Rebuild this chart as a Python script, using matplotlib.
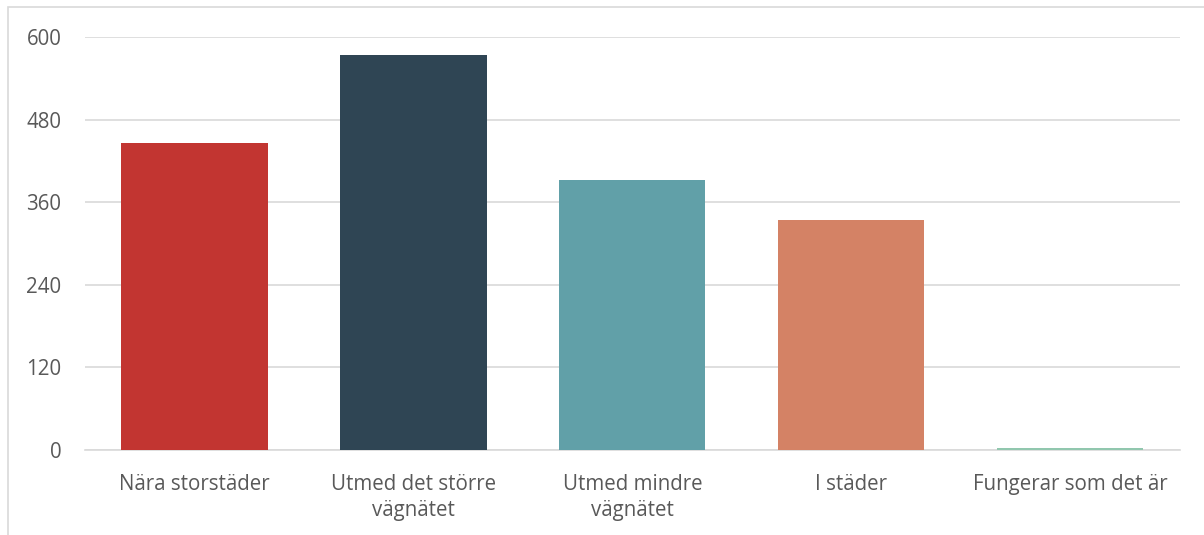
import matplotlib.pyplot as plt
from matplotlib.patches import Rectangle

categories = ["Nära storstäder", "Utmed det större\nvägnätet", "Utmed mindre\nvägnätet",
              "I städer", "Fungerar som det är"]
values = [446, 574, 392, 334, 3]
colors = ["#C23531", "#2F4554", "#61A0A8", "#D48265", "#91C7AE"]
yticks = [0, 120, 240, 360, 480, 600]

plt.rcParams['font.family'] = ['Open Sans', 'DejaVu Sans']

fig = plt.figure(figsize=(12.04, 5.35), dpi=100)
ax = fig.add_axes([0.0706, 0.159, 0.9094, 0.772])

# outer frame around the chart area
fig.patches.append(Rectangle((0.007, -0.05), 1.05, 1.037, transform=fig.transFigure,
                             fill=False, edgecolor="#d9d9d9", linewidth=1.2))

x = range(len(categories))
ax.bar(x, values, width=0.667, color=colors, zorder=3)

ax.set_xlim(-0.5, len(categories) - 0.5)
ax.set_ylim(0, 600)
ax.set_yticks(yticks)
ax.set_xticks(list(x))
ax.set_xticklabels(categories, linespacing=1.35)
ax.grid(axis='y', color="#d9d9d9", linewidth=1.2, zorder=0)
ax.set_axisbelow(True)
for s in ["top", "right", "left"]:
    ax.spines[s].set_visible(False)
ax.spines["bottom"].set_color("#d9d9d9")
ax.spines["bottom"].set_linewidth(1.2)
ax.tick_params(axis='both', length=0, labelsize=14.8, colors="#595959")
ax.tick_params(axis='x', pad=17)
ax.tick_params(axis='y', pad=17)

fig.savefig("out.png", dpi=100)
